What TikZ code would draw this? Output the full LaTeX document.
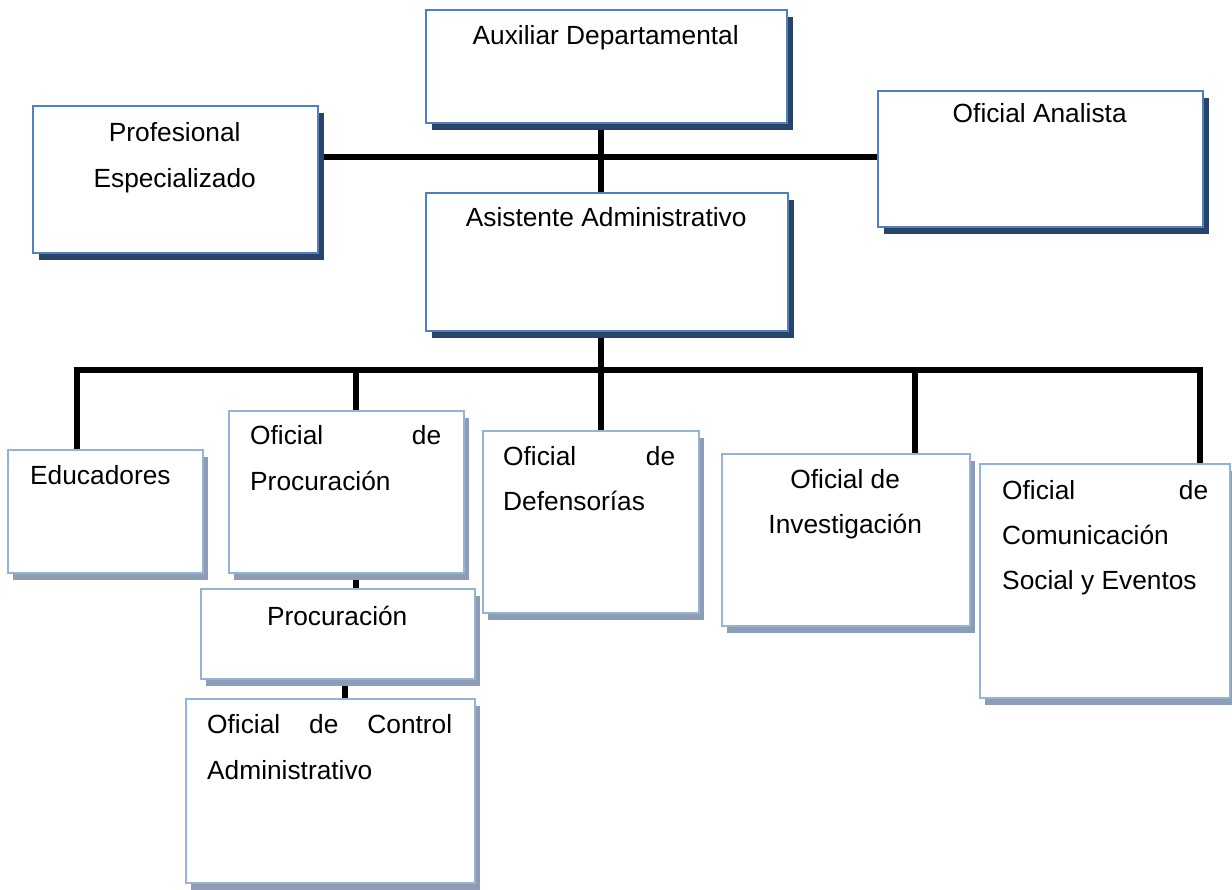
\documentclass[tikz,border=0pt]{standalone}
\usepackage{fontspec}
\setmainfont{Liberation Sans}
\usetikzlibrary{shadows}
\definecolor{topb}{HTML}{4F81BD}
\definecolor{tops}{HTML}{2A4468}
\definecolor{lowb}{HTML}{95B3D7}
\definecolor{lows}{HTML}{8E9DB4}
\pgfdeclarelayer{bg}
\pgfsetlayers{bg,main}
\newcommand\orgfont{\fontsize{26.3}{46}\selectfont}
\tikzset{
  topbox/.style={draw=topb, line width=2pt, fill=white, inner sep=0pt, anchor=north west,
    drop shadow={shadow xshift=6pt, shadow yshift=-7pt, fill=tops, opacity=1}},
  lowbox/.style={draw=lowb, line width=2.4pt, fill=white, inner sep=0pt, anchor=north west,
    drop shadow={shadow xshift=5pt, shadow yshift=-7pt, fill=lows, opacity=1}},
  conn/.style={line width=5.5pt, black, line join=miter},
  lbl/.style={anchor=base west, inner sep=0pt, font=\orgfont}
}
\begin{document}
\begin{tikzpicture}[x=1pt, y=-1pt]
\useasboundingbox (0,0) rectangle (1232,890);

% upper boxes
\node[topbox, minimum width=361, minimum height=113] (aux) at (425,9) {};
\node[lbl] (aux-t) at (425,45) {\parbox[t]{361pt}{\centering Auxiliar Departamental}};

\node[topbox, minimum width=285, minimum height=147] (prof) at (32,105) {};
\node[lbl] (prof-t) at (32,142) {\parbox[t]{285pt}{\centering Profesional\\Especializado}};

\node[topbox, minimum width=325, minimum height=136] (ana) at (877,90) {};
\node[lbl] (ana-t) at (877,123) {\parbox[t]{325pt}{\centering Oficial Analista}};

\node[topbox, minimum width=362, minimum height=138] (asis) at (425,192) {};
\node[lbl] (asis-t) at (425,227) {\parbox[t]{362pt}{\centering Asistente Administrativo}};

% lower boxes
\node[lowbox, minimum width=195, minimum height=123] (edu) at (7,449) {};
\node[lbl] (edu-t) at (30,485) {Educadores};

\node[lowbox, minimum width=235, minimum height=162] (ofproc) at (228,410) {};
\node[lbl] (ofproc-t) at (250,445) {\parbox[t]{191pt}{Oficial\hfill de\\Procuración}};

\node[lowbox, minimum width=274, minimum height=90] (proc) at (200,588) {};
\node[lbl] (proc-t) at (200,625) {\parbox[t]{274pt}{\centering Procuración}};

\node[lowbox, minimum width=289, minimum height=184] (ctrl) at (185,698) {};
\node[lbl] (ctrl-t) at (207,733) {\parbox[t]{245pt}{Oficial\hfill de\hfill Control\\Administrativo}};

\node[lowbox, minimum width=216, minimum height=182] (def) at (482,430) {};
\node[lbl] (def-t) at (503,465) {\parbox[t]{172pt}{Oficial\hfill de\\Defensorías}};

\node[lowbox, minimum width=248, minimum height=172] (inv) at (721,453) {};
\node[lbl] (inv-t) at (721,488) {\parbox[t]{248pt}{\centering Oficial de\\Investigación}};

\node[lowbox, minimum width=250, minimum height=234] (com) at (979,463) {};
\node[lbl] (com-t) at (1002,500) {\parbox[t]{206pt}{\baselineskip=45pt Oficial\hfill de\\Comunicación\\Social y Eventos}};

% connectors
\coordinate (j1) at (601,157);
\coordinate (b1) at (77,370);
\coordinate (b2) at (356,370);
\coordinate (b3) at (601,370);
\coordinate (b4) at (915,370);
\coordinate (b5) at (1200,370);
\coordinate (k1) at (345,0);
\begin{pgfonlayer}{bg}
\draw[conn] (prof.east |- j1) -- (ana.west |- j1);
\draw[conn] (aux.south -| j1) -- (asis.north -| j1);
\draw[conn] (asis.south -| b3) -- (b3);
\draw[conn] (b1 |- edu.north) -- (b1) -- (b5) -- (b5 |- com.north);
\draw[conn] (b2) -- (b2 |- ofproc.north);
\draw[conn] (b3) -- (b3 |- def.north);
\draw[conn] (b4) -- (b4 |- inv.north);
\draw[conn] (ofproc.south -| b2) -- (proc.north -| b2);
\draw[conn] (proc.south -| k1) -- (ctrl.north -| k1);
\end{pgfonlayer}
\end{tikzpicture}
\end{document}
